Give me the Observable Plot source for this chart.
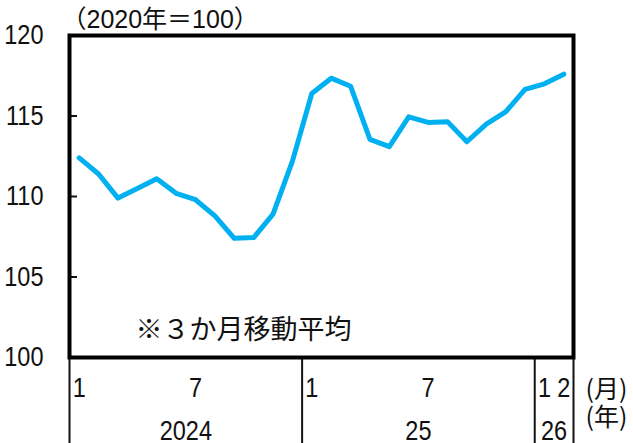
<!DOCTYPE html>
<html>
<head>
<meta charset="utf-8">
<script src="https://cdn.jsdelivr.net/npm/d3@7"></script>
<script src="https://cdn.jsdelivr.net/npm/@observablehq/plot@0.6"></script>
<style>
  html, body { margin: 0; padding: 0; background: #fff; }
</style>
</head>
<body>
<div id="chart"></div>
<script>
// Monthly periods (Jan 2024 – Feb 2026)
const periods = [
  "2024-01","2024-02","2024-03","2024-04","2024-05","2024-06",
  "2024-07","2024-08","2024-09","2024-10","2024-11","2024-12",
  "2025-01","2025-02","2025-03","2025-04","2025-05","2025-06",
  "2025-07","2025-08","2025-09","2025-10","2025-11","2025-12",
  "2026-01","2026-02"
];
// Index values (2020 = 100), 3-month moving average
const values = [
  112.4, 111.4, 109.9, 110.5, 111.1, 110.2,
  109.8, 108.8, 107.4, 107.45, 108.9, 112.2,
  116.4, 117.35, 116.85, 113.55, 113.1, 114.95,
  114.6, 114.65, 113.4, 114.5, 115.25, 116.65,
  117.0, 117.6
];
// Tick labels
const monthTicks = ["2024-01","2024-07","2025-01","2025-07","2026-01","2026-02"];
const monthTickLabels = ["1","7","1","7","1","2"];
const yearKeys = ["2024","2025","2026"];
const yearLabels = ["2024","25","26"];
const yTicks = [100, 105, 110, 115, 120];
const yInnerTicks = [105, 110, 115];
const unitLabel = "（2020年＝100）";
const noteLabel = "※３か月移動平均";
const monthUnit = "(月)";
const yearUnit = "(年)";

const data = periods.map((p, i) => ({i, value: values[i]}));
const monthData = monthTicks.map((p, k) => ({i: periods.indexOf(p), label: monthTickLabels[k]}));
const yearData = yearKeys.map((y, k) => {
  const idx = periods.map((p, i) => p.startsWith(y) ? i : -1).filter(i => i >= 0);
  return {start: idx[0] - 0.5, end: idx[idx.length - 1] + 0.5, mid: (idx[0] + idx[idx.length - 1]) / 2, label: yearLabels[k]};
});
const separators = [yearData[0].start, ...yearData.map(d => d.end)];

const NUM_FONT = "'Liberation Sans', 'Noto Sans CJK JP', sans-serif";
const CJK_FONT = "'Noto Sans CJK JP', sans-serif";

const W = 633, H = 443;
const mL = 69, mR = 60, mT = 35, mB = 86;
const plotW = W - mL - mR, plotH = H - mT - mB;

const chart = Plot.plot({
  width: W,
  height: H,
  marginLeft: mL,
  marginRight: mR,
  marginTop: mT,
  marginBottom: mB,
  style: {fontFamily: NUM_FONT, fontSize: "26px", color: "#111", background: "#fff", overflow: "visible"},
  x: {domain: [-0.5, periods.length - 0.5], axis: null},
  y: {domain: [100, 120], axis: null},
  marks: [
    Plot.axisY({ticks: yTicks, label: null, tickSize: 0, tickPadding: 26, fontSize: 28, fontFamily: NUM_FONT, fill: "#111"}),
    Plot.ruleY(yInnerTicks, {stroke: "#111", strokeWidth: 2, insetRight: plotW - 8}),
    Plot.ruleX(separators, {stroke: "#111", strokeWidth: 2, insetTop: plotH, insetBottom: -mB}),
    Plot.line(data, {x: "i", y: "value", stroke: "#00B0F0", strokeWidth: 5, strokeLinejoin: "round", strokeLinecap: "round"}),
    Plot.frame({stroke: "#000", strokeWidth: 4}),
    Plot.text(monthData, {x: "i", text: "label", frameAnchor: "bottom", lineAnchor: "middle", dy: 31, fontSize: 28, fontFamily: NUM_FONT, fill: "#111"}),
    Plot.text(yearData, {x: "mid", text: "label", frameAnchor: "bottom", lineAnchor: "middle", dy: 74, fontSize: 28, fontFamily: NUM_FONT, fill: "#111"}),
    Plot.text([monthUnit], {frameAnchor: "bottom-right", textAnchor: "start", lineAnchor: "middle", dx: 12, dy: 32, fontSize: 25, fontFamily: CJK_FONT, fill: "#111"}),
    Plot.text([yearUnit], {frameAnchor: "bottom-right", textAnchor: "start", lineAnchor: "middle", dx: 12, dy: 60, fontSize: 25, fontFamily: CJK_FONT, fill: "#111"}),
    Plot.text([unitLabel], {frameAnchor: "top-left", textAnchor: "start", lineAnchor: "middle", dx: -8, dy: -16, fontSize: 25, fontFamily: NUM_FONT, fill: "#111"}),
    Plot.text([noteLabel], {frameAnchor: "bottom-left", textAnchor: "start", lineAnchor: "middle", dx: 66, dy: -27, fontSize: 27, fontFamily: CJK_FONT, fill: "#111"})
  ]
});
// Condense the narrow-font number labels horizontally (reference uses a narrow typeface)
const skip = new Set([noteLabel, unitLabel, monthUnit, yearUnit]);
chart.querySelectorAll("text").forEach(el => {
  if (skip.has(el.textContent)) return;
  const t = el.getAttribute("transform") || "";
  el.setAttribute("transform", t + " scale(0.84,1)");
});
document.getElementById("chart").appendChild(chart);
</script>
</body>
</html>
